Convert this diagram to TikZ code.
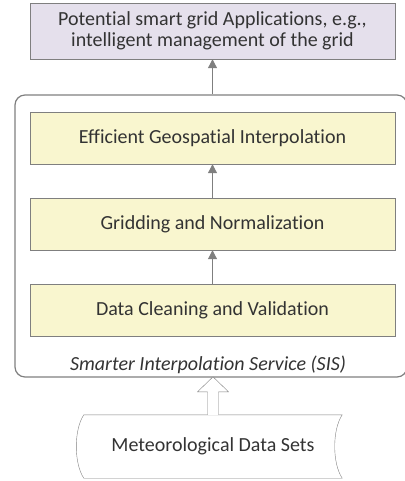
\documentclass[tikz,border=0pt]{standalone}
\usepackage{fontspec}
\setmainfont{Carlito}[Ligatures=NoCommon]
\usetikzlibrary{arrows.meta,positioning}
\definecolor{linegray}{HTML}{7F7F7F}
\definecolor{textgray}{HTML}{333333}
\definecolor{lavender}{HTML}{E5E0EC}
\definecolor{paleyellow}{HTML}{F9F6CF}
\begin{document}
\begin{tikzpicture}[x=1pt,y=-1pt,node distance=86pt,
  every node/.style={text=textgray,font=\fontsize{20}{21}\selectfont},
  app node/.style={rectangle,draw=linegray,fill=lavender,minimum width=365pt,minimum height=56pt,align=center,inner sep=0pt},
  stage node/.style={rectangle,draw=linegray,fill=paleyellow,minimum width=365pt,minimum height=52pt,inner sep=0pt},
  service node/.style={rectangle,draw=linegray,line width=1.2pt,rounded corners=10pt,minimum width=392pt,minimum height=282pt},
  flow/.style={draw=linegray,line width=1pt,-{Triangle[length=9pt,width=9pt]}},
  hollow/.style={draw=linegray,fill=white}]
  \useasboundingbox (0,0) rectangle (404,481);

  \node[app node] (app) at (212.5,31) {Potential smart grid Applications, e.g.,\\intelligent management of the grid};
  \node[service node] (sis) at (211,236) {};
  \node[stage node] (clean) at (212.5,310) {Data Cleaning and Validation};
  \node[stage node] (grid) [above of=clean] {Gridding and Normalization};
  \node[stage node] (interp) [above of=grid] {Efficient Geospatial Interpolation};
  \node[font=\fontsize{20}{21}\selectfont\itshape,anchor=base,yshift=7pt,xshift=-3pt] (sislabel) at (sis.south) {Smarter Interpolation Service (SIS)};
  \node[minimum width=258pt,minimum height=63pt] (met) at (213,446.5) {Meteorological Data Sets};

  \path
  (clean) edge[flow] (grid)
  (grid) edge[flow] (interp);
  \draw[flow] (app.south |- sis.north) -- (app.south);

  \draw[linegray] (met.north west) -- (met.north east)
    .. controls +(-10,15) and +(-10,-15) .. (met.south east) -- (met.south west)
    .. controls +(-10,-15) and +(-10,15) .. (met.north west);
  \draw[hollow] (met.north) ++(-5.5,0) -- ++(0,-23) -- ++(-10,0) -- ++(15.5,-15)
    -- ++(15.5,15) -- ++(-10,0) -- ++(0,23);

\end{tikzpicture}
\end{document}
